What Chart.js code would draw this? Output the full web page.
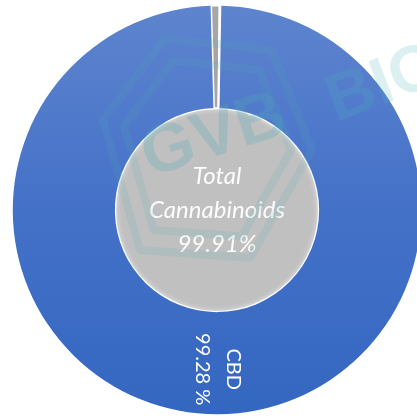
<!DOCTYPE html>
<html>
<head>
<meta charset="utf-8">
<script src="https://cdn.jsdelivr.net/npm/chart.js@4/dist/chart.umd.min.js"></script>
<style>
  html, body { margin: 0; padding: 0; background: #ffffff; overflow: hidden; }
  #wrap { position: absolute; left: 0; top: 0; width: 430px; height: 419px; }
</style>
</head>
<body>
<div id="wrap"><canvas id="c" width="430" height="419"></canvas></div>
<script>
// ---- data ----
const categories = ['CBD', 'Other cannabinoids', 'Non-cannabinoids'];
const compositionValues = [99.28, 0.63, 0.09];
const totalLabel = ['Total', 'Cannabinoids'];
const totalValues = [99.91];
const labelFormat = ['CBD', '99.28 %'];

const BLUE_TOP = '#5E84CE', BLUE_MID = '#4471C8', BLUE_BOT = '#3467C1';

function blueGradient(context) {
  const chart = context.chart;
  const area = chart.chartArea;
  if (!area) return BLUE_MID;
  const g = chart.ctx.createLinearGradient(0, area.top, 0, area.bottom);
  g.addColorStop(0, BLUE_TOP);
  g.addColorStop(0.5, BLUE_MID);
  g.addColorStop(1, BLUE_BOT);
  return g;
}

function innerFill(context) {
  const chart = context.chart;
  const meta = chart.getDatasetMeta(1);
  const arc = meta && meta.data && meta.data[0];
  if (!arc || !arc.outerRadius) return '#C0C0C0';
  const g = chart.ctx.createRadialGradient(arc.x, arc.y, 0, arc.x, arc.y, arc.outerRadius);
  g.addColorStop(0, '#C3C3C3');
  g.addColorStop(0.90, '#C1C1C1');
  g.addColorStop(0.96, '#B0B0B0');
  g.addColorStop(1, '#D8D8D8');
  return g;
}

// white rim + soft glow around the inner (total) disc, using the arc's own geometry
const rimPlugin = {
  id: 'innerRim',
  afterDatasetDraw(chart, args) {
    if (args.index !== 1) return;
    const arc = chart.getDatasetMeta(1).data[0];
    if (!arc) return;
    const ctx = chart.ctx;
    ctx.save();
    ctx.shadowColor = 'rgba(255,255,255,0.8)';
    ctx.shadowBlur = 5;
    ctx.strokeStyle = '#FFFFFF';
    ctx.lineWidth = 2.5;
    ctx.beginPath();
    ctx.arc(arc.x, arc.y, arc.outerRadius, 0, Math.PI * 2);
    ctx.stroke();
    ctx.restore();
  }
};

const sliceLabelPlugin = {
  id: 'sliceLabel',
  afterDatasetsDraw(chart) {
    const ctx = chart.ctx;
    const arc = chart.getDatasetMeta(0).data[0];
    if (!arc) return;
    const mid = (arc.startAngle + arc.endAngle) / 2;
    const r = (arc.innerRadius + arc.outerRadius) / 2 + 6;
    const x = arc.x + Math.cos(mid) * r;
    const y = arc.y + Math.sin(mid) * r;
    ctx.save();
    ctx.translate(x, y);
    ctx.rotate(Math.PI / 2);
    ctx.fillStyle = '#FFFFFF';
    ctx.font = '20px Lato, "Liberation Sans", sans-serif';
    ctx.textAlign = 'center';
    ctx.textBaseline = 'middle';
    const gap = 31;
    ctx.fillText(labelFormat[0], 0, -gap / 2);
    ctx.fillText(labelFormat[1], 0, gap / 2);
    ctx.restore();

    // centre text
    const inner = chart.getDatasetMeta(1).data[0];
    ctx.save();
    ctx.fillStyle = 'rgba(255,255,255,0.95)';
    ctx.font = 'italic 24px Lato, "Liberation Sans", sans-serif';
    ctx.textAlign = 'center';
    ctx.textBaseline = 'middle';
    const lines = [totalLabel[0], totalLabel[1], totalValues[0].toFixed(2) + '%'];
    const step = 34;
    lines.forEach((t, i) => ctx.fillText(t, inner.x, inner.y - 34 + i * step));
    ctx.restore();
  }
};

// decorative watermark (not data)
const watermarkPlugin = {
  id: 'watermark',
  afterDraw(chart) {
    const ctx = chart.ctx;
    const outer = [[165, 38], [272, 50], [312, 150], [250, 258], [140, 250], [103, 120]];
    const cx = 208, cy = 150;
    ctx.save();
    ctx.strokeStyle = 'rgba(80,172,182,0.15)';
    ctx.lineJoin = 'round';
    ctx.lineWidth = 8;
    [1, 0.8].forEach(s => {
      ctx.beginPath();
      outer.forEach((p, k) => {
        const px = cx + (p[0] - cx) * s, py = cy + (p[1] - cy) * s;
        if (k === 0) ctx.moveTo(px, py); else ctx.lineTo(px, py);
      });
      ctx.closePath();
      ctx.stroke();
    });
    ctx.restore();

    ctx.save();
    ctx.translate(214, 137);
    ctx.rotate(-0.31);
    ctx.fillStyle = 'rgba(80,170,180,0.27)';
    ctx.font = 'bold 68px "Liberation Sans", sans-serif';
    ctx.textAlign = 'center';
    ctx.textBaseline = 'middle';
    ctx.fillText('GVB', 0, 0);
    ctx.restore();

    ctx.save();
    ctx.translate(336, 122);
    ctx.rotate(-0.36);
    ctx.fillStyle = 'rgba(80,180,190,0.2)';
    ctx.font = 'bold 66px "Liberation Sans", sans-serif';
    ctx.textAlign = 'left';
    ctx.textBaseline = 'alphabetic';
    ctx.fillText('BIO', 0, 0);
    ctx.restore();
  }
};

new Chart(document.getElementById('c'), {
  type: 'pie',
  data: {
    labels: categories,
    datasets: [
      {
        label: 'Composition',
        data: compositionValues,
        backgroundColor: (c) => c.dataIndex === 0 ? blueGradient(c) : (c.dataIndex === 1 ? '#A6A6A6' : '#E6E6E6'),
        borderColor: '#FFFFFF',
        borderWidth: [0, 1.5, 1.5],
        weight: 1
      },
      {
        label: 'Total Cannabinoids',
        data: totalValues,
        backgroundColor: innerFill,
        borderWidth: 0,
        weight: 1
      }
    ]
  },
  options: {
    responsive: false,
    animation: false,
    devicePixelRatio: 1,
    rotation: 1,
    layout: { padding: { left: 12, top: 5, right: 8, bottom: 4 } },
    plugins: {
      legend: { display: false },
      tooltip: { enabled: false }
    },
    events: []
  },
  plugins: [rimPlugin, sliceLabelPlugin, watermarkPlugin]
});
</script>
</body>
</html>
